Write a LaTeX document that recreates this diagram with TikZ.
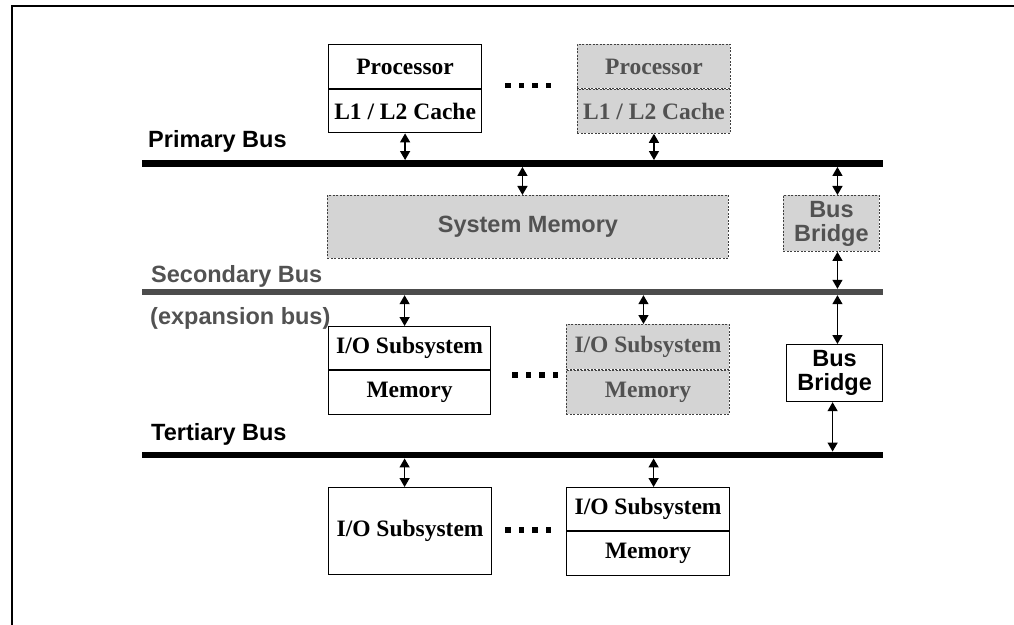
\documentclass[tikz,border=0pt]{standalone}
\usepackage{fontspec}
\setmainfont{Liberation Serif}
\setsansfont{Liberation Sans}
\usetikzlibrary{arrows.meta}

\begin{document}
\begin{tikzpicture}[x=1bp,y=1bp,yscale=-1,xscale=1,
  every node/.style={inner sep=0pt},
  box/.style={draw, line width=1.2bp, anchor=north west, font=\bfseries\fontsize{23.5bp}{24bp}\selectfont},
  greybox/.style={draw=black!75, dash pattern=on 2bp off 1.5bp, line width=0.9bp, fill=black!17, text=black!68, anchor=north west, font=\bfseries\fontsize{23.5bp}{24bp}\selectfont},
  bus/.style={fill=black, minimum width=741bp, minimum height=6.5bp, anchor=west},
  buslabel/.style={anchor=base west, font=\sffamily\bfseries\fontsize{23.5bp}{24bp}\selectfont},
  link/.style={{Triangle[width=10bp,length=9bp]}-{Triangle[width=10bp,length=9bp]}, line width=1.4bp},
  dot/.style={fill=black, minimum size=5.5bp}
]
\useasboundingbox (0,0) rectangle (1014,625);

%Frame
\draw [line width=2bp] (12,625) -- (12,6) -- (1014,6) ;

%Buses
\node [bus] (pbus) at (142,163.5) {};
\node [bus, fill=black!70, minimum height=6bp] (sbus) at (142,292) {};
\node [bus] (tbus) at (142,455) {};

% Text Node
\node [buslabel] (pbuslbl) at (148,148) {Primary Bus};
% Text Node
\node [buslabel, text=black!68] (sbuslbl) at (151,283) {Secondary Bus};
% Text Node
\node [buslabel, text=black!68] (explbl) at (150,324) {(expansion bus)};
% Text Node
\node [buslabel] (tbuslbl) at (151,440) {Tertiary Bus};

%Processors
\node [box, minimum width=153bp, minimum height=44bp] (procA) at (328,44) {Processor};
\node [box, minimum width=153bp, minimum height=43bp, anchor=north] (cacheA) at (procA.south) {L1 / L2 Cache};
\node [greybox, minimum width=153bp, minimum height=44bp] (procB) at (577,44) {Processor};
\node [greybox, minimum width=153bp, minimum height=44bp, anchor=north] (cacheB) at (procB.south) {L1 / L2 Cache};

%System memory and bridges
\node [greybox, font=\sffamily\bfseries\fontsize{23.5bp}{24bp}\selectfont, minimum width=401bp, minimum height=63bp] (sysmem) at (327,195) {System Memory};
\node [greybox, font=\sffamily\bfseries\fontsize{23.5bp}{24bp}\selectfont, align=center, minimum width=96bp, minimum height=56bp] (upbr) at (783,195) {Bus\\Bridge};
\node [box, font=\sffamily\bfseries\fontsize{23.5bp}{24bp}\selectfont, align=center, minimum width=96bp, minimum height=57bp] (lowbr) at (786,344) {Bus\\Bridge};

%Expansion bus subsystems
\node [box, minimum width=162bp, minimum height=43bp] (ioA) at (328,326) {I/O Subsystem};
\node [box, minimum width=162bp, minimum height=44bp, anchor=north] (memA) at (ioA.south) {Memory};
\node [greybox, minimum width=163bp, minimum height=45bp] (ioB) at (566,324) {I/O Subsystem};
\node [greybox, minimum width=163bp, minimum height=44bp, anchor=north] (memB) at (ioB.south) {Memory};

%Tertiary bus subsystems
\node [box, minimum width=163bp, minimum height=87bp] (ioC) at (328,487) {I/O Subsystem};
\node [box, minimum width=163bp, minimum height=43bp] (ioD) at (566,487) {I/O Subsystem};
\node [box, minimum width=163bp, minimum height=44bp, anchor=north] (memD) at (ioD.south) {Memory};

%Dots
\foreach \x in {508,521.5,535,548.5} \node [dot] at (\x,85.5) {};
\foreach \x in {515,528.5,542,555.5} \node [dot] at (\x,375) {};
\foreach \x in {508,521.5,535,548.5} \node [dot] at (\x,530) {};

%Connectors
\draw [link] (cacheA.south) -- (cacheA.south |- pbus.north) ;
\draw [link] (cacheB.south) -- (cacheB.south |- pbus.north) ;
\coordinate (smx) at ([xshift=-5.5bp]sysmem.north) ;
\draw [link] (smx |- pbus.south) -- (smx) ;
\coordinate (brx) at ([xshift=6bp]upbr.south) ;
\draw [link] (brx |- pbus.south) -- (brx |- upbr.north) ;
\draw [link] (brx) -- (brx |- sbus.north) ;
\draw [link] (brx |- sbus.south) -- (brx |- lowbr.north) ;
\coordinate (lbx) at ([xshift=-2bp]lowbr.south) ;
\draw [link] (lbx) -- (lbx |- tbus.north) ;
\coordinate (iax) at ([xshift=-5bp]ioA.north) ;
\draw [link] (iax |- sbus.south) -- (iax) ;
\coordinate (ibx) at ([xshift=-4.5bp]ioB.north) ;
\draw [link] (ibx |- sbus.south) -- (ibx) ;
\coordinate (icx) at ([xshift=-5.5bp]ioC.north) ;
\draw [link] (icx |- tbus.south) -- (icx) ;
\coordinate (idx) at ([xshift=5.5bp]ioD.north) ;
\draw [link] (idx |- tbus.south) -- (idx) ;

\end{tikzpicture}
\end{document}
